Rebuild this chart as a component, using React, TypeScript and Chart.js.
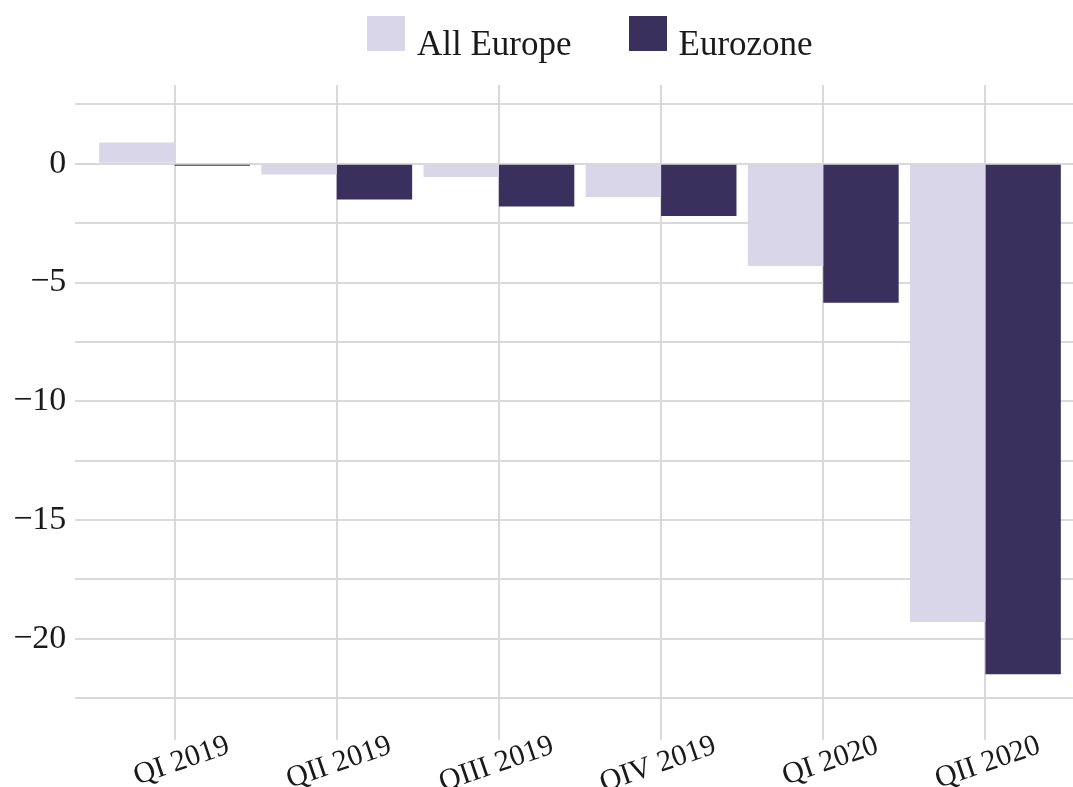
import React, { useEffect, useRef } from 'react';
import { Chart, registerables } from 'chart.js';

Chart.register(...registerables);

const CATEGORIES = ['QI 2019', 'QII 2019', 'QIII 2019', 'QIV 2019', 'QI 2020', 'QII 2020'];
const ALL_EUROPE = [0.9, -0.45, -0.55, -1.4, -4.3, -19.3];
const EUROZONE = [-0.08, -1.5, -1.8, -2.2, -5.85, -21.5];
const SERIES_NAMES = ['All Europe', 'Eurozone'];
const SERIES_COLORS = ['#d9d6ea', '#39305e'];
const Y_LABELED_TICKS = [0, -5, -10, -15, -20];
const Y_MIN = -22.5;
const Y_MAX = 3.32;
const Y_STEP = 2.5;
const X_MIN = -0.612;
const X_MAX = 5.54;

const FONT = "'Liberation Serif', 'Times New Roman', serif";
const TEXT_COLOR = '#1a1a1a';
const GRID_COLOR = '#d9d9d9';

export default function App() {
  const ref = useRef<HTMLCanvasElement>(null);

  useEffect(() => {
    if (!ref.current) return;
    const chart = new Chart(ref.current, {
      type: 'bar',
      data: {
        datasets: [
          {
            label: SERIES_NAMES[0],
            data: ALL_EUROPE.map((y, i) => ({ x: i, y })),
            backgroundColor: SERIES_COLORS[0],
            borderWidth: 0,
          },
          {
            label: SERIES_NAMES[1],
            data: EUROZONE.map((y, i) => ({ x: i, y })),
            backgroundColor: SERIES_COLORS[1],
            borderWidth: 0,
          },
        ],
      },
      options: {
        animation: false,
        responsive: true,
        maintainAspectRatio: false,
        layout: { padding: { top: 85, left: 0, right: 0, bottom: 0 } },
        datasets: { bar: { categoryPercentage: 0.93, barPercentage: 1 } },
        plugins: { legend: { display: false }, tooltip: { enabled: false } },
        scales: {
          x: {
            type: 'linear',
            min: X_MIN,
            max: X_MAX,
            offset: false,
            grid: {
              color: GRID_COLOR,
              lineWidth: 2,
              drawTicks: true,
              tickLength: 42,
              tickColor: GRID_COLOR,
              offset: false,
            },
            border: { display: false },
            afterFit: (s: any) => {
              s.height = 89;
            },
            ticks: {
              stepSize: 1,
              includeBounds: false,
              autoSkip: false,
              minRotation: 19,
              maxRotation: 19,
              padding: -12,
              labelOffset: 54,
              color: TEXT_COLOR,
              font: { family: FONT, size: 30 },
              callback: (v: any) => (Number.isInteger(v) && CATEGORIES[v] !== undefined ? CATEGORIES[v] : ''),
            },
          },
          y: {
            type: 'linear',
            min: Y_MIN,
            max: Y_MAX,
            grid: { color: GRID_COLOR, lineWidth: 2, drawTicks: false },
            border: { display: false },
            afterFit: (s: any) => {
              s.width = 75.3;
            },
            ticks: {
              stepSize: Y_STEP,
              includeBounds: false,
              autoSkip: false,
              padding: 9,
              color: TEXT_COLOR,
              font: { family: FONT, size: 34 },
              callback: (v: any) => {
                const n = Number(v);
                if (!Y_LABELED_TICKS.some((t) => Math.abs(t - n) < 1e-6)) return '';
                return n < 0 ? '\u2212' + Math.abs(n) : String(n);
              },
            },
          },
        },
      },
    } as any);
    return () => chart.destroy();
  }, []);

  return (
    <div style={{ position: 'fixed', left: 0, top: 0, width: 1073, height: 787, background: '#fff', overflow: 'hidden' }}>
      <canvas ref={ref} />
      <div
        style={{
          position: 'absolute',
          left: 367,
          top: 16,
          display: 'flex',
          alignItems: 'flex-start',
          fontFamily: FONT,
          fontSize: 35,
          lineHeight: '35px',
          color: TEXT_COLOR,
        }}
      >
        {SERIES_NAMES.map((name, i) => (
          <div key={name} style={{ display: 'flex', alignItems: 'flex-start', marginRight: i === 0 ? 57 : 0 }}>
            <span style={{ display: 'inline-block', width: 38, height: 35, background: SERIES_COLORS[i] }} />
            <span style={{ marginLeft: 12, marginTop: 9.5, whiteSpace: 'nowrap' }}>{name}</span>
          </div>
        ))}
      </div>
    </div>
  );
}
